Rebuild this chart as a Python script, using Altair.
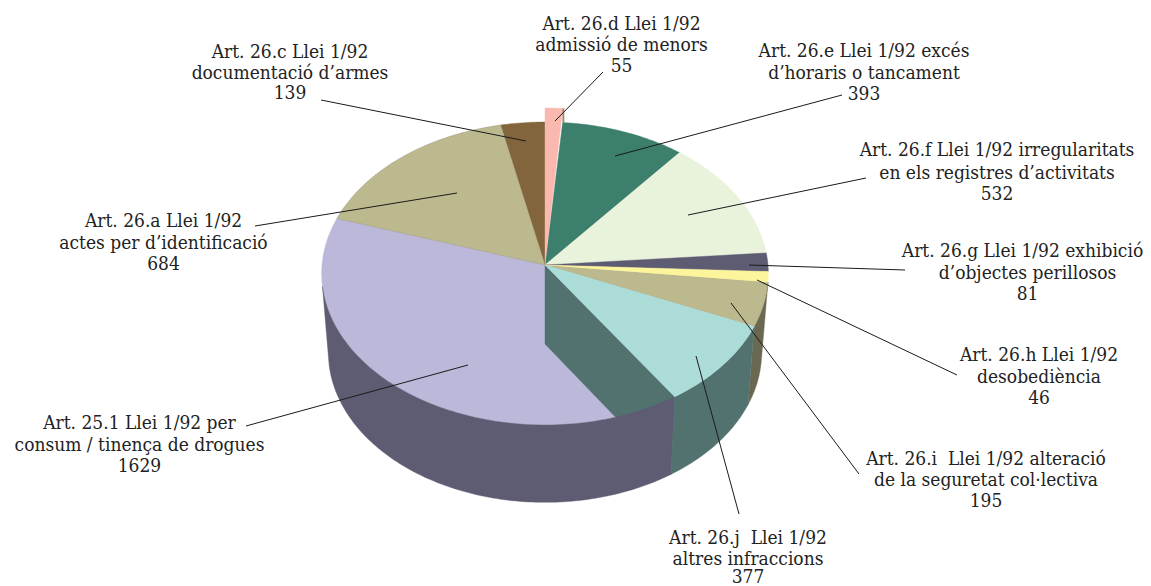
import math
import altair as alt
import pandas as pd

# ---- data
categories = ["26.d", "26.e", "26.f", "26.g", "26.h", "26.i", "26.j", "25.1", "26.a", "26.c"]
values = [55, 393, 532, 81, 46, 195, 377, 1629, 684, 139]
top_colors = ["#fab8ae", "#3c7f6c", "#e9f3dc", "#5e5c72", "#fdf59b", "#bdb98f", "#abdcd8", "#bcb8da", "#bdb98f", "#82653c"]
wall_colors = {"26.i": "#6a6850", "26.j": "#527270", "25.1": "#5e5c72"}

label_lines = [
    ("Art. 26.d Llei 1/92", 621.5, 24), ("admissió de menors", 621.5, 45), ("55", 621.5, 65.5),
    ("Art. 26.e Llei 1/92 excés", 864, 51), ("d’horaris o tancament", 864, 72.5), ("393", 864, 93.5),
    ("Art. 26.f Llei 1/92 irregularitats", 997, 150), ("en els registres d’activitats", 997, 172.5), ("532", 997, 194),
    ("Art. 26.g Llei 1/92 exhibició", 1022.5, 250.5), ("d’objectes perillosos", 1027.5, 272.5), ("81", 1027.5, 294),
    ("Art. 26.h Llei 1/92", 1039, 354.5), ("desobediència", 1039, 376.5), ("46", 1039, 398),
    ("Art. 26.i\u00a0\u00a0Llei 1/92 alteració", 986, 458.5), ("de la seguretat col·lectiva", 986, 480), ("195", 986, 501),
    ("Art. 26.j\u00a0\u00a0Llei 1/92", 748, 537.5), ("altres infraccions", 748, 558.5), ("377", 748, 577),
    ("Art. 25.1 Llei 1/92 per", 139.5, 422.5), ("consum / tinença de drogues", 139.5, 444.5), ("1629", 139.5, 466),
    ("Art. 26.a Llei 1/92", 163.5, 220.5), ("actes per d’identificació", 163.5, 242.5), ("684", 163.5, 264),
    ("Art. 26.c Llei 1/92", 290, 51.5), ("documentació d’armes", 290, 72.5), ("139", 290, 93),
]
leaders = [
    (603, 72, 555, 121), (842, 95, 615, 156), (866, 178, 688, 215), (905, 270, 749, 265),
    (957, 375, 757, 280), (859, 474, 731, 303), (739, 514, 696, 356), (246, 426, 468, 365),
    (255, 226, 457, 193), (321, 100, 526, 141),
]

# ---- perspective projection of the pie
APEX_X, APEX_Y = 545, 265
RX, A, P = 223, 151, 0.056
DEPTH, BX, BY = 79, 0.97, 0.99
total = sum(values)
edges = [0]
for v in values:
    edges.append(edges[-1] + v / total * 360)


def rim(deg, base=False, lift=0):
    t = math.radians(deg)
    u, v = math.sin(t), math.cos(t)
    dx = RX * u / (1 + P * v)
    dy = A * v / (1 + P * v)
    if base:
        return APEX_X + dx * BX, APEX_Y + DEPTH - dy * BY
    return APEX_X + dx, APEX_Y - dy - lift


def arc(a, b, **kw):
    n = max(2, int(abs(b - a)) + 2)
    return [rim(a + (b - a) * i / (n - 1), **kw) for i in range(n)]


def poly(pts, color, sw=0.4, stroke=None):
    df = pd.DataFrame(pts, columns=["x", "y"])
    df["i"] = range(len(df))
    return alt.Chart(df).mark_line(
        interpolate="linear-closed", fill=color, stroke=stroke or color, strokeWidth=sw
    ).encode(x=X, y=Y, order="i:Q")


X = alt.X("x:Q", scale=alt.Scale(domain=[8, 1143]), axis=None)
Y = alt.Y("y:Q", scale=alt.Scale(domain=[586, 8]), axis=None)

apex = (APEX_X, APEX_Y)
e = dict(zip(categories, zip(edges[:-1], edges[1:])))
tops = dict(zip(categories, top_colors))
layers = []


def wall(cat, a, b):
    return poly(arc(a, b) + arc(b, a, base=True), wall_colors[cat])


def top(cat, edge=None):
    a, b = e[cat]
    return poly([apex] + arc(a, b), tops[cat], stroke=edge)


# far slices first
for c in ["26.c", "26.e", "26.f", "26.g"]:
    layers.append(top(c))
layers.append(poly([apex] + arc(*e["26.d"], lift=14), tops["26.d"]))
layers.append(poly(arc(e["26.d"][1], e["26.d"][1] + 0.4, lift=14) + arc(e["26.d"][1] + 0.4, e["26.d"][1]), "#a9856f"))
layers.append(top("25.1"))
layers.append(top("26.a", "#8f8c6e"))
# radial cut of the aqua slice, drawn over the lavender face
cut = e["26.j"][1]
layers.append(poly([apex, (APEX_X, APEX_Y + DEPTH), rim(cut, base=True), rim(cut)], wall_colors["26.j"]))
layers.append(wall("25.1", e["25.1"][0], 262))
layers.append(wall("26.i", *e["26.i"]))
layers.append(wall("26.j", *e["26.j"]))
for c in ["26.i", "26.h", "26.j"]:
    layers.append(top(c, "#8f8c6e" if c == "26.i" else None))

lead = pd.DataFrame(leaders, columns=["x", "y", "x2", "y2"])
layers.append(alt.Chart(lead).mark_rule(color="#1a1a1a", strokeWidth=1).encode(x=X, y=Y, x2="x2:Q", y2="y2:Q"))

txt = pd.DataFrame(label_lines, columns=["t", "x", "y"])
layers.append(
    alt.Chart(txt)
    .mark_text(font="DejaVu Serif Condensed", fontSize=19, color="#222222", align="center", baseline="middle")
    .encode(x=X, y=Y, text="t:N")
)

chart = (
    alt.layer(*layers)
    .properties(width=1135, height=578, padding=0, autosize=alt.AutoSizeParams(type="none"))
    .configure_view(stroke=None)
)
chart.save("out.html", embed_options={"renderer": "svg", "actions": False})
